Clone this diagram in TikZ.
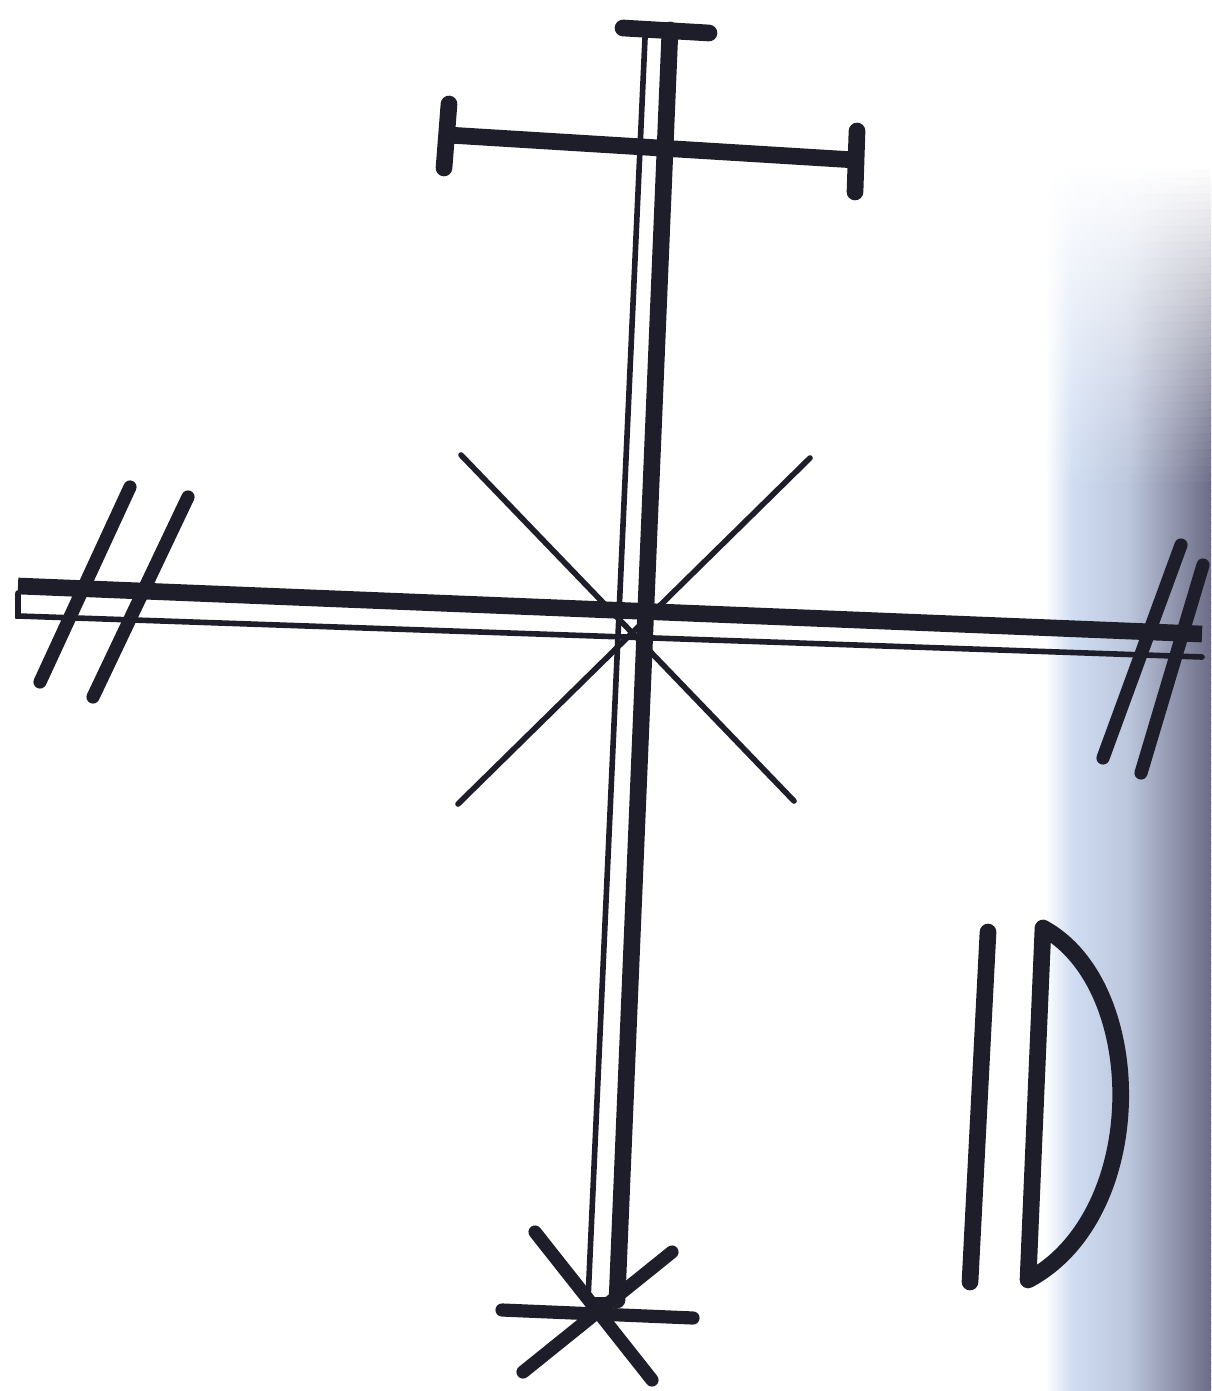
\documentclass[tikz,border=0pt]{standalone}
\definecolor{ink}{RGB}{30,30,42}
\definecolor{paperblue}{RGB}{208,221,242}
\definecolor{papergray}{RGB}{108,108,134}
\colorlet{edgeA}{paperblue}
\colorlet{edgeB}{paperblue!80!papergray}
\colorlet{edgeC}{papergray}
\pgfdeclarehorizontalshading[edgeA,edgeB,edgeC]{pageedge}{100bp}{color(0bp)=(white);
  color(25bp)=(white); color(33bp)=(edgeA); color(50bp)=(edgeB);
  color(75bp)=(edgeC); color(100bp)=(edgeC)}
\begin{document}
\begin{tikzpicture}[x=0.02cm, y=-0.02cm,
    inkheavy/.style={draw=ink, line width=9.5pt, line cap=round},
    inkmid/.style={draw=ink, line width=7.5pt, line cap=round},
    inklight/.style={draw=ink, line width=3.2pt, line cap=round}]
  \useasboundingbox (0,0) rectangle (1211,1391);

  % Shadow of the page edge on the right
  \foreach \i in {1,...,153} {
    \pgfmathtruncatemacro{\p}{min(100,100*\i/40)}
    \colorlet{edgeA}{paperblue!\p!white}
    \colorlet{edgeB}{paperblue!80!papergray!\p!white}
    \colorlet{edgeC}{papergray!\p!white}
    \shade[shading=pageedge] (1045,{162+8*\i}) rectangle (1211,{171+8*\i});
  }

  % Shaft
  \coordinate (ST) at (670,30);
  \coordinate (SB) at (617,1300);
  \coordinate (LT) at (645,38);
  \coordinate (LB) at (588,1300);
  \draw[inkheavy] (ST) -- (SB);
  \draw[inklight] (LT) -- (LB) -- (SB);

  % Cap on top
  \coordinate (CL) at (623,28);
  \coordinate (CR) at (709,33);
  \draw[inkheavy] (CL) -- (CR);

  % Upper crossbar with end stops
  \coordinate (UL) at (448,135);
  \coordinate (UR) at (855,160);
  \draw[inkheavy] (UL) -- (UR);
  \draw[inkheavy] (449,104) -- (444,168);
  \draw[inkheavy] (857,131) -- (855,192);

  % Long horizontal bar
  \coordinate (HL) at (18,586);
  \coordinate (HR) at (1202,634);
  \coordinate (hl) at (18,616);
  \coordinate (hr) at (1202,657);
  \draw[inkheavy, line cap=butt] (HL) -- (HR);
  \draw[inklight] ([yshift=-4pt]HL) -- (hl) -- (hr);

  % Hash marks, left end
  \draw[inkmid] (130,487) -- (40,682);
  \draw[inkmid] (188,497) -- (93,697);

  % Hash marks, right end
  \draw[inkmid] (1181,545) -- (1103,758);
  \draw[inkmid] (1203,565) -- (1141,773);

  % Diagonal cross at the centre
  \coordinate (O) at (630,622);
  \draw[inklight] (461,455) -- (794,801);
  \draw[inklight] (810,458) -- (458,804);

  % Star at the foot
  \coordinate (F) at (598,1310);
  \draw[inkmid] (502,1310) -- (693,1318);
  \draw[inkmid] (535,1232) -- (652,1380);
  \draw[inkmid] (672,1252) -- (523,1372);

  % Mark ID
  \draw[inkheavy] (988,932) -- (970,1282);
  \draw[inkheavy, line join=round] (1043,928) -- (1028,1280)
       .. controls (1150,1215) and (1148,985) .. (1043,928);

\end{tikzpicture}
\end{document}
